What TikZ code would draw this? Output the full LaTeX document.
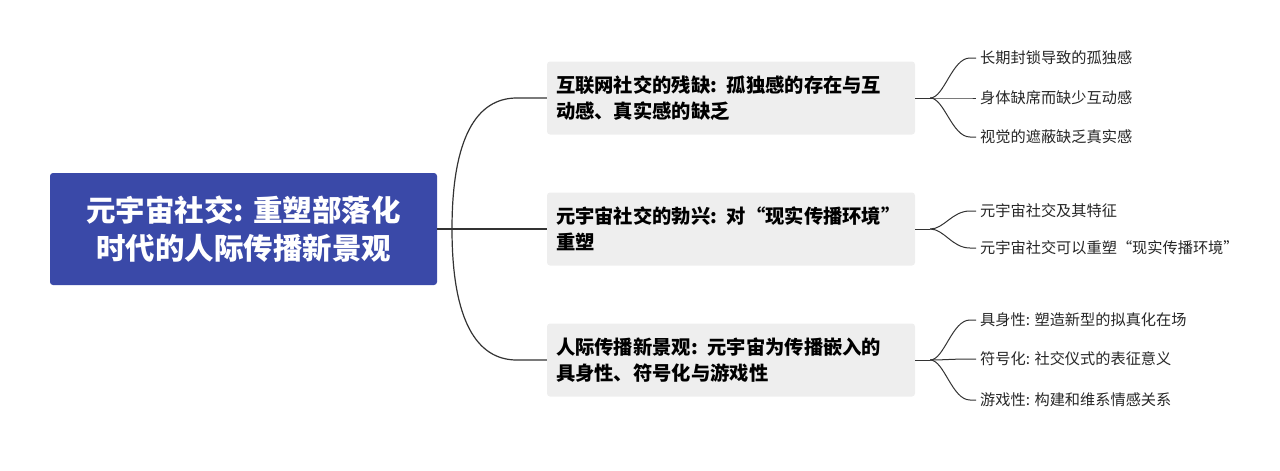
\documentclass[tikz,border=0pt]{standalone}
\usepackage{fontspec}
\newfontfamily\cjk{Noto Sans CJK SC}
\usetikzlibrary{positioning,calc}
\definecolor{rootblue}{HTML}{3A49A8}
\definecolor{midgray}{HTML}{EEEEEE}
\definecolor{linegray}{HTML}{333333}
\begin{document}
\begin{tikzpicture}[x=1pt, y=-1pt,
    every node/.append style = {font=\cjk},
    rootbox/.style = {fill=rootblue, rounded corners=3pt, text=white,
      minimum width=387pt, minimum height=112pt, align=center,
      font=\cjk\bfseries\fontsize{29.5}{38}\selectfont},
    midbox/.style = {fill=midgray, rounded corners=3pt, text=black,
      minimum width=368pt, minimum height=73pt, text width=350pt, align=left,
      font=\cjk\bfseries\fontsize{19.3}{26}\selectfont},
    leaf/.style = {anchor=west, inner sep=0pt, text=black!85,
      font=\cjk\fontsize{15.2}{18}\selectfont},
    link/.style = {draw=linegray, line width=1.2pt}
  ]
  \useasboundingbox (0,0) rectangle (1280,471);
  \node[rootbox] (root) at (243.5,229) {元宇宙社交: 重塑部落化\\时代的人际传播新景观};
  \node[midbox] (m1) at (731,98) {互联网社交的残缺: 孤独感的存在与互\\动感、真实感的缺乏};
  \node[midbox] (m2) at (731,229) {元宇宙社交的勃兴: 对“现实传播环境”\\重塑};
  \node[midbox] (m3) at (731,360) {人际传播新景观: 元宇宙为传播嵌入的\\具身性、符号化与游戏性};
  \coordinate (r0) at (452,229);
  \draw[link] (root.east) -- (r0);
  \foreach \m in {m1,m2,m3} {
    \path (\m.west) ++(-30,0) coordinate (e) ++(-40,0) coordinate (c2);
    \draw[link] (r0) .. controls ($(r0)!0.7!(r0|-\m.west)$) and (c2) .. (e) -- (\m.west);
  }
  % leaves
  \node[leaf] (l11) at (980,58) {长期封锁导致的孤独感};
  \node[leaf] (l12) at (980,98) {身体缺席而缺少互动感};
  \node[leaf] (l13) at (980,137) {视觉的遮蔽缺乏真实感};
  \node[leaf] (l21) at (980,211) {元宇宙社交及其特征};
  \node[leaf] (l22) at (980,248) {元宇宙社交可以重塑“现实传播环境”};
  \node[leaf] (l31) at (980,320) {具身性: 塑造新型的拟真化在场};
  \node[leaf] (l32) at (980,359) {符号化: 社交仪式的表征意义};
  \node[leaf] (l33) at (980,400) {游戏性: 构建和维系情感关系};
  \foreach \m/\ls in {m1/{l11,l12,l13}, m2/{l21,l22}, m3/{l31,l32,l33}} {
    \coordinate (b) at ([xshift=15pt]\m.east);
    \draw[link, line width=1pt] (\m.east) -- (b);
    \foreach \l in \ls {
      \draw[link, line width=1pt] (b) .. controls ([xshift=14pt]b) and ([xshift=-28pt]\l.west) .. ([xshift=-10pt]\l.west) -- ([xshift=-4pt]\l.west);
    }
  }
\end{tikzpicture}
\end{document}
